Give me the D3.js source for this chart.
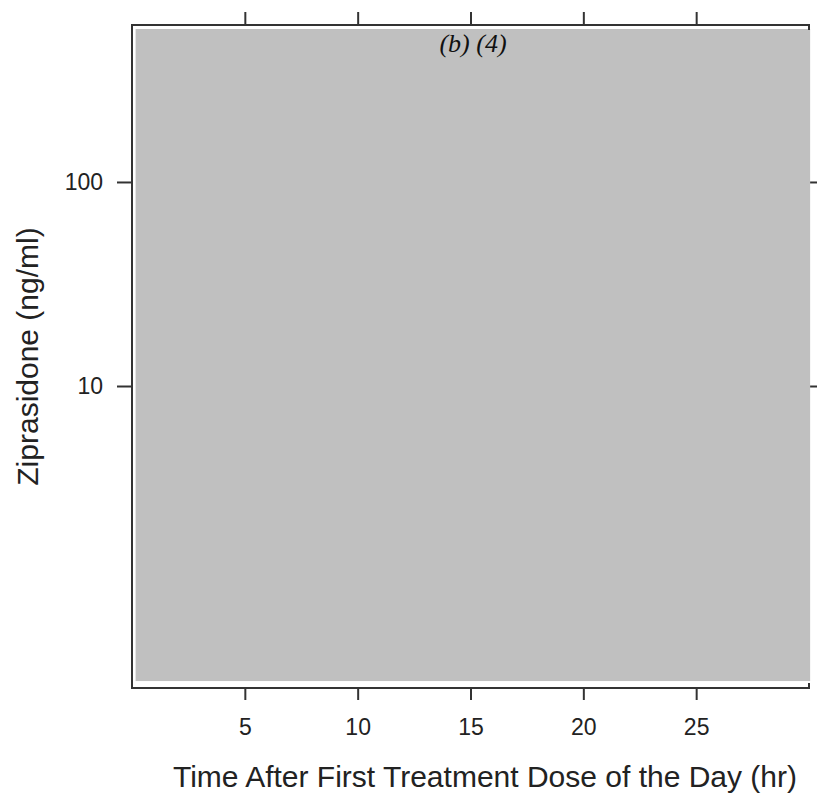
<!DOCTYPE html>
<html>
<head>
<meta charset="utf-8">
<script src="https://cdn.jsdelivr.net/npm/d3@7/dist/d3.min.js"></script>
<style>
  html, body { margin: 0; padding: 0; background: #fff; }
  svg { display: block; }
  .tick text { font-family: "Liberation Sans", Arial, sans-serif; fill: #222; }
</style>
</head>
<body>
<div id="chart"></div>
<script>
// axis settings
const xDomain = [0, 30];
const yDomain = [0.331, 588];
const xTicks = [5, 10, 15, 20, 25];
const yTicks = [10, 100];

// grey box covering the panel (data units)
const coverX = [0.16, 30.05];
const coverY = [0.358, 562];

const titleText = '(b) (4)';
const xLabel = 'Time After First Treatment Dose of the Day (hr)';
const yLabel = 'Ziprasidone (ng/ml)';

const width = 817, height = 796;
const margin = { top: 25, right: 8, bottom: 108, left: 132 };
const innerW = width - margin.left - margin.right;
const innerH = height - margin.top - margin.bottom;

const svg = d3.select('#chart')
  .append('svg')
  .attr('width', width)
  .attr('height', height);

const g = svg.append('g')
  .attr('transform', `translate(${margin.left},${margin.top})`);

const x = d3.scaleLinear().domain(xDomain).range([0, innerW]);
const y = d3.scaleLog().domain(yDomain).range([innerH, 0]);

// grey panel
g.append('rect')
  .attr('x', x(coverX[0]))
  .attr('y', y(coverY[1]))
  .attr('width', x(coverX[1]) - x(coverX[0]))
  .attr('height', y(coverY[0]) - y(coverY[1]))
  .attr('fill', '#c0c0c0');

// axes
const styleAxis = sel => {
  sel.select('.domain').remove();
  sel.selectAll('.tick line').attr('stroke', '#333').attr('stroke-width', 2);
};

g.append('g')
  .attr('transform', `translate(0,${innerH})`)
  .call(d3.axisBottom(x).tickValues(xTicks).tickSize(12).tickPadding(19))
  .call(styleAxis)
  .selectAll('text').style('font-size', '23px');

g.append('g')
  .call(d3.axisTop(x).tickValues(xTicks).tickSize(13).tickFormat(''))
  .call(styleAxis);

g.append('g')
  .call(d3.axisLeft(y).tickValues(yTicks).tickSize(15).tickPadding(14).tickFormat(d3.format('d')))
  .call(styleAxis)
  .selectAll('text').style('font-size', '23px');

g.append('g')
  .attr('transform', `translate(${x(coverX[1])},0)`)
  .call(d3.axisRight(y).tickValues(yTicks).tickSize(7).tickFormat(''))
  .call(styleAxis);

// frame: top, left, bottom (right edge hidden under grey box)
g.append('path')
  .attr('d', `M${innerW},5V0H0V${innerH}H${innerW}V${innerH - 5}`)
  .attr('fill', 'none')
  .attr('stroke', '#333')
  .attr('stroke-width', 2);

// title
svg.append('text')
  .attr('x', 473)
  .attr('y', 52)
  .attr('text-anchor', 'middle')
  .style('font-family', '"Liberation Serif", "Times New Roman", serif')
  .style('font-style', 'italic')
  .style('font-size', '26px')
  .style('fill', '#111')
  .text(titleText);

// axis labels
svg.append('text')
  .attr('x', 485)
  .attr('y', 787)
  .attr('text-anchor', 'middle')
  .style('font-family', '"Liberation Sans", Arial, sans-serif')
  .style('font-size', '30px')
  .style('fill', '#222')
  .text(xLabel);

svg.append('text')
  .attr('transform', `translate(38,${margin.top + innerH / 2}) rotate(-90)`)
  .attr('text-anchor', 'middle')
  .style('font-family', '"Liberation Sans", Arial, sans-serif')
  .style('font-size', '30px')
  .style('fill', '#222')
  .text(yLabel);
</script>
</body>
</html>
